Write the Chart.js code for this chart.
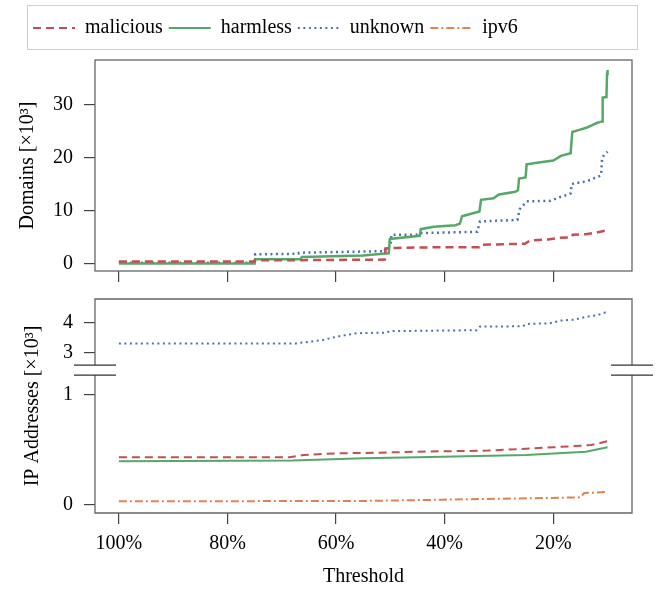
<!DOCTYPE html>
<html>
<head>
<meta charset="utf-8">
<script src="https://cdn.jsdelivr.net/npm/chart.js@4.4.0/dist/chart.umd.min.js"></script>
<style>
    html, body { margin: 0; padding: 0; background: #fff; }
    #wrap { position: relative; width: 659px; height: 589px; }
    #domainsChart { position: absolute; left: 0; top: 0; width: 659px; height: 290px; }
    #ipChart { position: absolute; left: 0; top: 290px; width: 659px; height: 299px; }
</style>
</head>
<body>
<div id="wrap">
    <canvas id="domainsChart" width="659" height="290"></canvas>
    <canvas id="ipChart" width="659" height="299"></canvas>
</div>
<script>
// x axis: threshold in percent (reversed)
const xTickValues = [100, 80, 60, 40, 20];
const xTickLabels = ['100%', '80%', '60%', '40%', '20%'];

// Domains [x10^3]
const domMalThr = [100, 75.0, 74.9, 67, 51.0, 50.9, 49, 45, 33.6, 33.4, 25.2, 24.3, 21, 19, 16.6, 16.4, 14, 12, 10];
const domMalVal = [0.45, 0.45, 0.68, 0.7, 0.8, 2.9, 3.0, 3.1, 3.15, 3.6, 3.8, 4.4, 4.6, 4.9, 5.0, 5.5, 5.6, 5.9, 6.4];

const domHarmThr = [100, 75.0, 74.9, 66.6, 66.3, 55, 51.4, 50.3, 50.1, 44.6, 44.4, 42, 38, 37.2, 36.8, 33.6, 33.3, 31, 30, 27, 26.5, 26.3, 25.1, 24.9, 23, 20, 18.6, 16.8, 16.5, 15.2, 13.9, 12, 11.0, 10.9, 10.2, 10.1, 10];
const domHarmVal = [0.07, 0.07, 0.87, 0.87, 1.3, 1.6, 1.9, 2.0, 4.7, 5.3, 6.55, 7.0, 7.3, 7.6, 9.0, 9.9, 12.1, 12.4, 13.1, 13.6, 13.9, 16.1, 16.3, 18.8, 19.1, 19.5, 20.4, 20.9, 24.9, 25.3, 25.7, 26.6, 26.9, 31.4, 31.5, 35.9, 36.6];

const domUnkThr = [100, 75.0, 74.9, 67, 66.8, 51.0, 50.9, 50.0, 49.8, 45.2, 44.8, 34, 33.5, 26.6, 26.2, 24.9, 20.5, 18.8, 17.2, 16.8, 16.6, 13.8, 11.2, 11.0, 10];
const domUnkVal = [0.2, 0.2, 1.8, 1.9, 2.1, 2.4, 3.0, 3.2, 5.5, 5.5, 5.8, 6.05, 8.0, 8.3, 10.3, 11.8, 11.9, 12.6, 13.1, 13.3, 15.1, 15.6, 16.7, 20.1, 21.2];

// IP Addresses [x10^3]
const ipUnkThr = [100, 67.4, 62.5, 60, 56.2, 50.7, 50.1, 34.1, 33.5, 25.6, 24.8, 20.6, 18.7, 16.3, 13.8, 11.9, 10];
const ipUnkVal = [3.31, 3.31, 3.42, 3.53, 3.65, 3.67, 3.72, 3.75, 3.87, 3.88, 3.96, 3.98, 4.07, 4.1, 4.2, 4.25, 4.37];

const ipMalThr = [100, 68.6, 66, 60, 53, 45, 32, 20, 13, 10];
const ipMalVal = [0.43, 0.43, 0.45, 0.465, 0.47, 0.48, 0.49, 0.52, 0.54, 0.575];

const ipHarmThr = [100, 68, 55, 45, 25, 14, 10];
const ipHarmVal = [0.394, 0.40, 0.42, 0.43, 0.45, 0.48, 0.52];

const ipV6Thr = [100, 55, 40, 21, 15, 14.3, 10];
const ipV6Val = [0.03, 0.033, 0.045, 0.06, 0.066, 0.105, 0.115];

const seriesNames = ['malicious', 'harmless', 'unknown', 'ipv6'];
const seriesColors = ['#c44e52', '#55a868', '#4c72b0', '#dd8452'];
const seriesDashes = [[8, 5], [], [2, 3.5], [8, 3, 2, 3]];

function pts(thr, val) {
    return thr.map((t, i) => ({ x: t, y: val[i] }));
}

function makeSet(idx, data, width, axis) {
    return {
        label: seriesNames[idx],
        data: data,
        borderColor: seriesColors[idx],
        backgroundColor: seriesColors[idx],
        borderDash: seriesDashes[idx],
        borderWidth: width,
        pointRadius: 0,
        tension: 0,
        fill: false,
        yAxisID: axis
    };
}

Chart.defaults.font.family = "'Liberation Serif', 'Times New Roman', serif";
Chart.defaults.font.size = 20;
Chart.defaults.color = '#000';

// draws the axes box, with a break in the middle for the IP chart
const framePlugin = {
    id: 'frame',
    afterDraw(chart, args, opts) {
        const a = chart.chartArea;
        const c = chart.ctx;
        c.save();
        c.strokeStyle = '#666';
        c.lineWidth = 1.3;
        if (!opts.breakAxis) {
            c.strokeRect(a.left, a.top, a.right - a.left, a.bottom - a.top);
        } else {
            const yb = chart.scales[opts.breakAxis].bottom;
            const g = 5;
            c.beginPath();
            c.moveTo(a.left, yb - g); c.lineTo(a.left, a.top); c.lineTo(a.right, a.top); c.lineTo(a.right, yb - g);
            c.moveTo(a.left, yb + g); c.lineTo(a.left, a.bottom); c.lineTo(a.right, a.bottom); c.lineTo(a.right, yb + g);
            c.stroke();
            c.strokeStyle = '#333';
            c.lineWidth = 1.2;
            c.beginPath();
            [a.left, a.right].forEach(x => {
                [yb - g, yb + g].forEach(y => { c.moveTo(x - 21, y); c.lineTo(x + 21, y); });
            });
            c.stroke();
        }
        c.restore();
    }
};

// extra room under the legend and a thin box round it
const legendBoxPlugin = {
    id: 'legendBox',
    beforeLayout(chart) {
        const l = chart.legend;
        if (l && !l._gapPatched) {
            const fit = l.fit;
            l.fit = function() { fit.call(this); this.height += 12; };
            l._gapPatched = true;
        }
    },
    afterDraw(chart) {
        const l = chart.legend;
        const c = chart.ctx;
        c.save();
        c.strokeStyle = '#cfcfcf';
        c.lineWidth = 1;
        c.strokeRect(l.left + 0.5, l.top - 6.5, l.width + 5, 44);
        c.restore();
    }
};

function xScale(showLabels, height) {
    return {
        type: 'linear',
        reverse: true,
        min: 5.5,
        max: 104.4,
        afterBuildTicks: s => { s.ticks = xTickValues.map(v => ({ value: v })); },
        afterFit: s => { s.height = height; s.paddingLeft = 0; s.paddingRight = 0; },
        ticks: {
            display: showLabels,
            padding: 8,
            maxRotation: 0,
            callback: (v) => xTickLabels[xTickValues.indexOf(v)]
        },
        grid: { display: true, drawOnChartArea: false, tickLength: 11, color: '#444', lineWidth: 1.2 },
        border: { display: false },
        title: { display: showLabels, text: 'Threshold', padding: { top: 0, bottom: 0 } }
    };
}

function yScale(min, max, tickVals, extra) {
    return Object.assign({
        type: 'linear',
        position: 'left',
        min: min,
        max: max,
        afterBuildTicks: s => { s.ticks = tickVals.map(v => ({ value: v })); },
        afterFit: s => { s.width = 68; s.paddingTop = 0; s.paddingBottom = 0; },
        ticks: { padding: 11 },
        grid: { display: true, drawOnChartArea: false, tickLength: 11, color: '#444', lineWidth: 1.2 },
        border: { display: false }
    }, extra);
}

new Chart(document.getElementById('domainsChart').getContext('2d'), {
    type: 'line',
    data: {
        datasets: [
            makeSet(0, pts(domMalThr, domMalVal), 2.5, 'y'),
            makeSet(1, pts(domHarmThr, domHarmVal), 2.5, 'y'),
            makeSet(2, pts(domUnkThr, domUnkVal), 2.5, 'y'),
            makeSet(3, [], 2, 'y')
        ]
    },
    options: {
        responsive: false,
        animation: false,
        layout: { padding: { top: 12, left: 27, right: 27, bottom: 0 } },
        plugins: {
            legend: {
                display: true,
                position: 'top',
                align: 'start',
                labels: {
                    usePointStyle: true,
                    pointStyle: 'line',
                    pointStyleWidth: 42,
                    padding: 6,
                    color: '#000',
                    font: { size: 20 },
                    generateLabels: chart => chart.data.datasets.map((ds, i) => ({
                        text: ds.label,
                        fillStyle: ds.borderColor,
                        strokeStyle: ds.borderColor,
                        fontColor: '#000',
                        lineWidth: 2,
                        lineDash: ds.borderDash,
                        lineCap: 'butt',
                        pointStyle: 'line',
                        hidden: false,
                        datasetIndex: i
                    }))
                }
            },
            tooltip: { enabled: false },
            frame: {}
        },
        scales: {
            x: xScale(false, 19),
            y: yScale(-1.35, 38.5, [0, 10, 20, 30], {
                title: { display: true, text: 'Domains [×10³]', padding: { top: -11, bottom: 0 } }
            })
        }
    },
    plugins: [framePlugin, legendBoxPlugin]
});

new Chart(document.getElementById('ipChart').getContext('2d'), {
    type: 'line',
    data: {
        datasets: [
            makeSet(0, pts(ipMalThr, ipMalVal), 2, 'yLow'),
            makeSet(1, pts(ipHarmThr, ipHarmVal), 2, 'yLow'),
            makeSet(2, pts(ipUnkThr, ipUnkVal), 2, 'yHigh'),
            makeSet(3, pts(ipV6Thr, ipV6Val), 2, 'yLow')
        ]
    },
    options: {
        responsive: false,
        animation: false,
        layout: { padding: { top: 9, left: 27, right: 27, bottom: 0 } },
        plugins: {
            legend: { display: false },
            tooltip: { enabled: false },
            frame: { breakAxis: 'yHigh' }
        },
        scales: {
            x: xScale(true, 76),
            yTitle: {
                type: 'linear',
                position: 'left',
                weight: 10,
                min: 0,
                max: 1,
                afterFit: s => { s.width = 0; s.paddingTop = 0; s.paddingBottom = 0; },
                ticks: { display: false },
                grid: { display: false },
                border: { display: false },
                title: { display: true, text: 'IP Addresses [×10³]', padding: { top: -6, bottom: 0 } }
            },
            yLow: yScale(-0.076, 1.22, [0, 1], { stack: 'ip', stackWeight: 2.01 }),
            yHigh: yScale(2.42, 4.79, [3, 4], { stack: 'ip', stackWeight: 1 })
        }
    },
    plugins: [framePlugin]
});
</script>
</body>
</html>
